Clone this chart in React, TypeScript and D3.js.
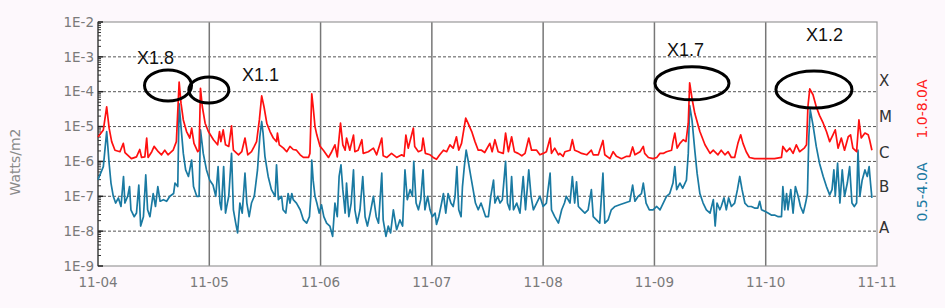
import React from "react";
import * as d3 from "d3";

// ---------- data (hours since 11-04 00:00, flux W/m2) ----------
const dayLabels = ["11-04", "11-05", "11-06", "11-07", "11-08", "11-09", "11-10", "11-11"];
const yTickValues = [1e-2, 1e-3, 1e-4, 1e-5, 1e-6, 1e-7, 1e-8, 1e-9];
const yTickLabels = ["1E-2", "1E-3", "1E-4", "1E-5", "1E-6", "1E-7", "1E-8", "1E-9"];
const classLetters = ["X", "M", "C", "B", "A"];
const classLetterValues = [2.1e-4, 1.95e-5, 1.85e-6, 1.9e-7, 1.3e-8];

const longSeries: [number, number][] = [
  [0, 5e-6], [1.15, 8e-6], [1.87, 3.7e-5], [2.4, 9e-6], [2.95, 3.7e-6], [3.66, 2.1e-6], [4.74, 1.9e-6], [5.46, 3.3e-6], [5.82, 1.8e-6], [7.2, 1.2e-6], [8.3, 1.35e-6], [9.0, 2.2e-6], [9.4, 1.3e-6], [10.1, 1.35e-6], [10.5, 4.7e-6], [10.8, 1.3e-6], [11.6, 1.9e-6], [12.1, 2.7e-6], [13.0, 1.9e-6], [13.7, 1.55e-6], [14.4, 2.1e-6], [15.1, 1.55e-6], [16.2, 2.1e-6], [16.9, 3.7e-6],
  [17.5, 1.9e-4], [17.9, 4.7e-5], [18.4, 1.55e-5], [19.1, 7.2e-6], [19.8, 4.7e-6], [20.2, 9e-6], [20.7, 3.3e-6], [21.5, 1.9e-6], [21.8, 2.1e-6], [22.1, 1.25e-4], [22.5, 3.7e-5], [23.1, 1.25e-5], [23.8, 7.2e-6], [24.9, 4.2e-6], [25.8, 3e-6], [26.2, 7.2e-6], [26.5, 3.7e-6], [27.0, 8e-6], [27.5, 3e-6], [28.2, 2.7e-6], [28.8, 1.05e-5], [29.2, 2.1e-6], [30.3, 1.55e-6], [31.0, 1.9e-6], [31.7, 4.7e-6], [32.3, 1.55e-6], [33.1, 1.9e-6], [33.7, 2.7e-6],
  [34.2, 3.7e-6], [34.8, 1.55e-5], [35.3, 7.6e-5], [35.8, 3.7e-5], [36.4, 1.25e-5], [37.1, 7.2e-6], [37.8, 4.7e-6], [38.5, 3.7e-6], [38.7, 6.5e-6], [39.1, 3e-6], [40.0, 2.4e-6], [40.7, 1.9e-6], [41.4, 2.7e-6], [42.1, 2.2e-6], [42.8, 2.1e-6], [43.6, 1.55e-6], [44.3, 1.3e-6], [45.4, 1.3e-6], [45.7, 1.7e-6], [46.1, 8.7e-5], [46.4, 3.7e-5], [46.8, 1e-5], [47.2, 5.7e-6], [47.9, 2.7e-6], [48.6, 2.1e-6], [49.7, 1.3e-6], [50.4, 1.9e-6], [51.1, 3e-6], [51.6, 1.35e-6], [52.3, 1.25e-5], [52.8, 3e-6], [53.3, 2.1e-6], [53.6, 4.7e-6], [54.3, 2.1e-6], [55.1, 5.7e-6], [55.4, 1.9e-6], [56.1, 2.1e-6], [56.9, 4.2e-6], [57.2, 1.7e-6], [58.3, 1.9e-6], [59.4, 2.4e-6], [60.1, 1.55e-6], [61.2, 4.7e-6], [61.5, 1.45e-6], [62.3, 1.3e-6], [63.3, 1.7e-6], [64.4, 1.3e-6], [65.5, 1.55e-6], [66.0, 1.4e-6], [66.4, 5.7e-6], [66.9, 2.4e-6],
  [68.0, 9e-6], [68.3, 2.7e-6], [69.1, 1.9e-6], [69.8, 2.1e-6], [70.1, 4.7e-6], [70.6, 1.7e-6], [71.6, 1.55e-6], [72.3, 1.3e-6], [73.0, 1.15e-6], [73.7, 1.55e-6], [74.5, 2.1e-6], [75.2, 1.9e-6], [75.9, 3e-6], [76.6, 2.4e-6], [77.3, 5.1e-6], [77.8, 2.1e-6], [78.4, 3.3e-6], [79.3, 1.75e-5], [79.8, 1.25e-5], [80.6, 7.2e-6], [81.3, 3.7e-6], [82.0, 2.1e-6], [82.7, 2.1e-6], [83.4, 1.8e-6], [84.5, 3.3e-6], [85.0, 1.9e-6], [85.6, 4.2e-6], [86.3, 1.9e-6], [87.4, 1.7e-6], [87.9, 6.5e-6], [88.5, 1.9e-6], [89.2, 5.1e-6], [89.8, 1.9e-6], [90.6, 1.7e-6], [91.4, 1.45e-6], [92.1, 1.7e-6], [92.9, 4.7e-6], [93.5, 2.1e-6], [94.6, 2.1e-6], [95.3, 1.55e-6], [96.0, 1.7e-6], [96.7, 1.9e-6], [97.5, 4.7e-6], [97.8, 1.7e-6], [98.5, 2.4e-6], [99.3, 1.55e-6],
  [99.6, 1.7e-6], [100.3, 1.4e-6], [100.7, 1.9e-6], [101.8, 2.1e-6], [102.3, 4.2e-6], [102.8, 2.1e-6], [103.6, 1.9e-6], [104.3, 1.7e-6], [105.4, 1.55e-6], [106.4, 2.1e-6], [106.8, 1.55e-6], [107.9, 1.55e-6], [108.9, 4e-6], [109.3, 1.55e-6], [110.4, 1.2e-6], [111.1, 1.9e-6], [111.8, 1.4e-6], [112.9, 1.2e-6], [114.0, 1.4e-6], [114.7, 1.4e-6], [115.3, 2.6e-6], [115.8, 1.55e-6], [116.9, 1.9e-6], [117.6, 2.7e-6], [117.9, 1.7e-6], [118.7, 1.3e-6], [119.7, 1.2e-6], [120.5, 1.3e-6], [121.2, 1.7e-6], [121.9, 1.7e-6], [122.6, 1.9e-6], [123.7, 2.1e-6], [124.0, 3.7e-6], [124.4, 6.5e-6], [124.9, 2.4e-6], [125.5, 3.3e-6], [126.2, 4.2e-6], [126.8, 3.7e-6], [127.3, 1.25e-5], [127.6, 1.8e-4], [128.1, 6.5e-5], [128.7, 2.4e-5], [129.8, 7.2e-6], [130.9, 3e-6], [132.0, 1.7e-6], [132.7, 2.1e-6],
  [133.0, 1.9e-6], [133.7, 1.55e-6], [134.4, 2.1e-6], [135.2, 1.55e-6], [135.9, 1.9e-6], [136.6, 1.3e-6], [137.3, 1.3e-6], [138.0, 3.3e-6], [138.6, 5.8e-6], [139.1, 3.3e-6], [139.8, 1.9e-6], [140.5, 1.3e-6], [141.6, 1.2e-6], [143.1, 1.2e-6], [144.5, 1.2e-6], [145.9, 1.2e-6], [147.4, 1.3e-6], [147.7, 2.7e-6], [148.5, 1.9e-6], [149.2, 2.4e-6], [149.9, 1.7e-6], [150.6, 3e-6], [151.3, 1.9e-6], [152.3, 2.4e-6], [152.8, 3e-6], [153.1, 3.7e-5], [153.5, 1.2e-4], [154.2, 8.2e-5], [154.9, 3.7e-5], [155.6, 2.1e-5], [156.4, 1.25e-5], [157.1, 7.2e-6], [157.8, 3.7e-6], [158.5, 5.8e-6], [159.0, 8.1e-6], [159.6, 2.4e-6], [160.3, 4.7e-6], [161.0, 2.1e-6], [161.8, 5.1e-6], [162.3, 5.8e-6], [162.8, 2.4e-6], [163.6, 1.9e-6], [164.1, 1.55e-5], [164.6, 4.7e-6], [165.4, 6.5e-6], [166.1, 5.8e-6], [166.4, 4.2e-6], [166.9, 2.1e-6],
];

const shortSeries: [number, number][] = [
  [0, 3e-7], [1.15, 7.1e-7], [1.87, 7.2e-6], [2.4, 8.9e-7], [2.8, 2.4e-7], [3.3, 1e-7], [3.8, 6.4e-8], [4.4, 9e-8], [4.96, 5.1e-8], [5.5, 3.7e-7], [5.8, 6.4e-8], [6.4, 1e-7], [6.8, 1.9e-7], [7.1, 4.1e-8], [7.8, 2.6e-8], [8.3, 3.3e-8], [8.8, 2.1e-7], [9.2, 1.4e-8], [9.8, 2.6e-8], [10.3, 4.1e-7], [10.7, 4.1e-8], [11.2, 2.6e-8], [11.9, 1.2e-7], [12.4, 5.1e-8], [12.9, 1.9e-7], [13.4, 7.2e-8], [14.1, 8e-8], [14.8, 7.2e-8], [15.5, 1e-7], [16.3, 1.2e-7], [16.6, 2.4e-7], [17.2, 1.9e-7],
  [17.5, 4.5e-5], [17.9, 1e-5], [18.4, 1.7e-6], [18.9, 5.7e-7], [19.5, 3.7e-7], [20.2, 1.1e-6], [20.6, 1.9e-7], [21.3, 1e-7], [21.8, 1e-7], [22.1, 8e-6], [22.7, 1.7e-6], [23.4, 5.7e-7], [24.1, 2.9e-7], [24.8, 2.1e-7], [25.4, 1e-7], [25.9, 7.1e-7], [26.3, 6.4e-8], [26.6, 4.1e-8], [27.1, 7.1e-7], [27.5, 3.3e-8], [27.9, 6.4e-8], [28.2, 1e-7], [28.8, 1.7e-6], [29.2, 4.1e-8], [29.7, 1.7e-8], [30.1, 8.9e-9], [30.6, 6.4e-8], [31.1, 3.3e-8], [31.7, 4.6e-7], [32.1, 6.4e-8], [32.6, 2.6e-8], [33.1, 6.4e-8], [33.7, 1e-7],
  [34.4, 5.7e-7], [34.9, 5.1e-6], [35.3, 1.4e-5], [35.6, 6.5e-6], [36.0, 1.4e-6], [36.7, 3.7e-7], [37.4, 1.55e-7], [38.2, 1e-7], [38.5, 8e-7], [38.9, 8e-8], [39.6, 1e-7], [39.9, 4.1e-8], [40.5, 3.3e-8], [41.0, 1.2e-7], [41.4, 6.4e-8], [41.8, 1.2e-7], [42.1, 8e-8], [42.8, 6.4e-8], [43.6, 4.1e-8], [44.3, 2.1e-8], [45.0, 1.7e-8], [45.6, 2.6e-8], [45.9, 1e-7], [46.1, 1.1e-6], [46.4, 2.9e-7], [46.8, 1e-7], [47.2, 6.4e-8], [47.7, 3.3e-8], [48.2, 5.7e-8], [48.7, 2.6e-8], [49.3, 1.7e-8], [50.0, 1.4e-8], [50.6, 7.1e-9], [51.1, 6.4e-8], [51.6, 2.6e-8], [52.0, 3.7e-7], [52.4, 8e-7], [52.8, 1.55e-7], [53.3, 3.3e-8], [53.6, 2.4e-7], [54.1, 2.6e-8], [54.6, 6.4e-8], [55.1, 5.7e-7], [55.4, 4.1e-8], [55.9, 1.7e-8], [56.5, 4.1e-8], [57.1, 3.7e-7], [57.6, 2.6e-8], [58.1, 1.4e-8], [58.7, 3.3e-8], [59.4, 1e-7], [60.0, 2.6e-8], [60.5, 1.7e-8], [61.2, 4.6e-7], [61.5, 2.1e-8], [62.1, 7.1e-9], [62.6, 1.4e-8], [63.1, 8.9e-9], [63.7, 4.1e-8], [64.4, 1.1e-8], [65.1, 2.1e-8], [65.7, 1.4e-8],
  [66.2, 5.7e-7], [66.7, 8e-8], [67.3, 1.55e-7], [67.8, 1e-7], [68.1, 1e-6], [68.6, 6.4e-8], [69.1, 4.1e-8], [69.6, 8e-8], [70.1, 5.7e-7], [70.5, 4.1e-8], [71.1, 1e-7], [71.6, 4.1e-8], [72.1, 2.6e-8], [72.7, 3.3e-8], [73.0, 1.55e-8], [73.5, 2.6e-8], [74.1, 6.4e-8], [74.5, 1.2e-7], [75.0, 3.3e-8], [75.5, 1.2e-7], [76.1, 6.4e-8], [76.6, 5.1e-8], [77.0, 1e-7], [77.4, 7.1e-7], [77.8, 4.1e-8], [78.3, 2.6e-8], [78.6, 1.9e-7], [79.0, 7.1e-7], [79.4, 2.1e-6], [79.8, 1.1e-6], [80.4, 3.7e-7], [80.9, 1.55e-7], [81.4, 6.4e-8], [82.0, 4.1e-8], [82.6, 6.4e-8], [83.1, 4.1e-8], [83.6, 2.6e-8], [84.2, 2.6e-8], [84.7, 1e-7], [85.3, 2.9e-7], [85.6, 6.4e-8], [86.2, 1e-7], [86.7, 6.4e-8], [87.2, 8e-8], [87.9, 1e-6], [88.3, 6.4e-8], [88.8, 4.1e-8], [89.2, 3.7e-7], [89.6, 4.1e-8], [90.3, 6.4e-8], [91.0, 3.3e-8], [91.7, 3.7e-7], [92.2, 4.1e-8], [92.9, 5.7e-7], [93.4, 1e-7], [93.9, 4.1e-8], [94.6, 6.4e-8], [95.3, 1e-7], [96.0, 5.1e-8], [96.7, 6.4e-8], [97.5, 4.6e-7], [97.8, 4.1e-8], [98.5, 2.6e-8], [99.3, 1.7e-8], [100.0, 4.1e-8], [100.6, 6.4e-8],
  [101.0, 1e-7], [101.8, 6.4e-8], [102.3, 3.7e-7], [102.8, 6.4e-8], [103.2, 2.6e-7], [103.6, 5.1e-8], [104.3, 4.1e-8], [105.0, 3.3e-8], [105.7, 4.1e-8], [106.4, 1.55e-7], [106.8, 2.6e-8], [107.5, 2.1e-8], [108.2, 1.7e-8], [108.9, 4.6e-7], [109.3, 1.7e-8], [110.0, 2.1e-8], [110.7, 4.1e-8], [111.5, 5.1e-8], [112.5, 5.7e-8], [113.6, 6.4e-8], [114.7, 7.2e-8], [115.3, 2.1e-7], [115.8, 7.2e-8], [116.5, 1e-7], [117.2, 1.2e-7], [117.6, 2.4e-7], [118.2, 6.4e-8], [118.9, 4.1e-8], [119.7, 4.1e-8], [120.5, 5.1e-8], [121.2, 4.1e-8], [121.9, 6.4e-8], [122.6, 1e-7], [123.3, 1.2e-7], [124.0, 2.4e-7], [124.4, 7.1e-7], [124.8, 1.55e-7], [125.5, 2.4e-7], [126.1, 1.7e-7], [126.6, 2.4e-7], [126.9, 2.9e-7], [127.3, 1.7e-6], [127.6, 4e-5], [128.1, 1.55e-5], [128.7, 2.1e-6], [129.2, 4.6e-7], [129.8, 1.2e-7], [130.5, 6.4e-8], [131.2, 4.1e-8], [132.0, 3.3e-8], [132.7, 8e-8], [133.1, 1.4e-8], [133.5, 6.4e-8], [134.1, 4.1e-8],
  [134.4, 5.1e-8], [135.0, 9e-8], [135.5, 4.1e-8], [136.0, 9e-8], [136.6, 5.1e-8], [137.3, 6.4e-8], [137.9, 1.55e-7], [138.4, 3.7e-7], [138.9, 1.55e-7], [139.5, 6.4e-8], [140.2, 5.1e-8], [140.9, 5.1e-8], [141.6, 4.6e-8], [142.3, 4.6e-8], [142.7, 7.2e-8], [143.1, 4.1e-8], [143.8, 3.7e-8], [144.5, 3.3e-8], [145.2, 2.9e-8], [145.9, 2.9e-8], [146.7, 2.6e-8], [147.4, 2.6e-8], [147.7, 1.9e-7], [148.1, 4.1e-8], [148.5, 1.2e-7], [148.8, 4.1e-8], [149.4, 1.55e-7], [149.9, 3.3e-8], [150.4, 1.9e-7], [151.0, 1e-7], [151.5, 5.1e-8], [152.1, 3.3e-8], [152.6, 6.4e-8], [153.0, 1.2e-7], [153.3, 5.1e-6], [153.6, 3e-5], [154.2, 1.1e-5], [154.9, 2.7e-6], [155.6, 8.9e-7], [156.4, 3.7e-7], [157.1, 1.9e-7], [157.8, 1.1e-7], [158.3, 1.55e-7], [158.7, 5.7e-7], [159.0, 1e-7], [159.5, 8.9e-7], [160.0, 6.4e-8], [160.5, 5.7e-7], [161.0, 1e-7], [161.6, 2.4e-7], [162.1, 7.1e-7], [162.6, 6.4e-8], [163.1, 5.1e-8], [163.6, 6.4e-8], [163.9, 2.1e-6], [164.3, 1e-7], [164.8, 2.9e-7], [165.4, 5.7e-7], [165.9, 3.7e-7], [166.3, 7.1e-7], [166.6, 2.4e-7], [166.9, 9e-8],
];

// flare annotations: label, hour & flux of the ellipse centre
const flareLabels = ["X1.8", "X1.1", "X1.7", "X1.2"];
const flareHours = [15.1, 23.9, 128.1, 154.4];
const flareFlux = [1.5e-4, 1.12e-4, 1.74e-4, 1.15e-4];

// ---------- layout ----------
const W = 945, H = 308;
const M = { left: 98, right: 877, top: 22, bottom: 266 };

export default function App() {
  const x = d3.scaleLinear().domain([0, 168]).range([M.left, M.right]);
  const y = d3.scaleLog().domain([1e-9, 1e-2]).range([M.bottom, M.top]);
  const line = d3.line<[number, number]>().x((d) => x(d[0])).y((d) => y(d[1]));

  const minor: number[] = [];
  for (let e = -9; e < -2; e++) for (let k = 2; k <= 9; k++) minor.push(k * Math.pow(10, e));

  const tickFont = "'DejaVu Sans', sans-serif";
  const ell = [
    { rx: 23.5, ry: 15.5, tx: 137, ty: 64 },
    { rx: 20, ry: 13, tx: 242, ty: 81 },
    { rx: 37, ry: 16.5, tx: 667, ty: 56 },
    { rx: 38, ry: 18.5, tx: 806, ty: 41 },
  ];

  return (
    <svg width={W} height={H} style={{ position: "absolute", left: 0, top: 0, background: "#fdf8fc" }}>
      <rect x={M.left} y={M.top} width={M.right - M.left} height={M.bottom - M.top} fill="#ffffff" />
      {/* horizontal dashed grid */}
      {yTickValues.slice(1, -1).map((v) => (
        <line key={"h" + v} x1={M.left} x2={M.right} y1={y(v)} y2={y(v)} stroke="#555" strokeWidth={1} strokeDasharray="3,2" />
      ))}
      {/* vertical day lines */}
      {dayLabels.slice(1, -1).map((_, i) => (
        <line key={"v" + i} x1={x((i + 1) * 24)} x2={x((i + 1) * 24)} y1={M.top} y2={M.bottom} stroke="#777" strokeWidth={1.5} />
      ))}
      {/* frame */}
      <rect x={M.left} y={M.top} width={M.right - M.left} height={M.bottom - M.top} fill="none" stroke="#999" strokeWidth={1.2} />
      <line x1={M.left} x2={M.left} y1={M.top} y2={M.bottom} stroke="#555" strokeWidth={1.5} />
      {/* left ticks */}
      {minor.map((v, i) => (
        <line key={"m" + i} x1={M.left} x2={M.left + 3} y1={y(v)} y2={y(v)} stroke="#333" strokeWidth={1} />
      ))}
      {yTickValues.map((v) => (
        <line key={"t" + v} x1={M.left} x2={M.left + 5} y1={y(v)} y2={y(v)} stroke="#222" strokeWidth={1.5} />
      ))}
      {yTickValues.map((v, i) => (
        <text key={"yl" + v} x={M.left - 4} y={y(v)} dy="0.35em" textAnchor="end" fontFamily={tickFont} fontSize={13.5} fill="#7a7a7a">
          {yTickLabels[i]}
        </text>
      ))}
      {dayLabels.map((d, i) => (
        <text key={"xl" + d} x={x(i * 24)} y={287} textAnchor="middle" fontFamily={tickFont} fontSize={13.5} fill="#7a7a7a">
          {d}
        </text>
      ))}
      <text transform={`translate(20,162) rotate(-90)`} textAnchor="middle" fontFamily={tickFont} fontSize={14} fill="#8a8a8a">
        Watts/m2
      </text>
      {/* series */}
      <path d={line(shortSeries) || ""} fill="none" stroke="#1a7aa2" strokeWidth={1.7} strokeLinejoin="round" />
      <path d={line(longSeries) || ""} fill="none" stroke="#ff1010" strokeWidth={1.7} strokeLinejoin="round" />
      {/* class letters */}
      {classLetters.map((c, i) => (
        <text key={c} x={M.right + 2} y={y(classLetterValues[i])} dy="0.36em" fontFamily={tickFont} fontSize={15} fill="#333">
          {c}
        </text>
      ))}
      <text transform={`translate(927,109) rotate(-90)`} textAnchor="middle" fontFamily={tickFont} fontSize={14} fill="#ff2020">
        1.0-8.0A
      </text>
      <text transform={`translate(927,192) rotate(-90)`} textAnchor="middle" fontFamily={tickFont} fontSize={14} fill="#1a7aa2">
        0.5-4.0A
      </text>
      {/* annotations */}
      {flareLabels.map((lab, i) => (
        <g key={lab}>
          <ellipse cx={x(flareHours[i])} cy={y(flareFlux[i])} rx={ell[i].rx} ry={ell[i].ry} fill="none" stroke="#000" strokeWidth={3} />
          <text x={ell[i].tx} y={ell[i].ty} fontFamily="'Liberation Sans', Arial, sans-serif" fontSize={18} fill="#111">
            {lab}
          </text>
        </g>
      ))}
    </svg>
  );
}
